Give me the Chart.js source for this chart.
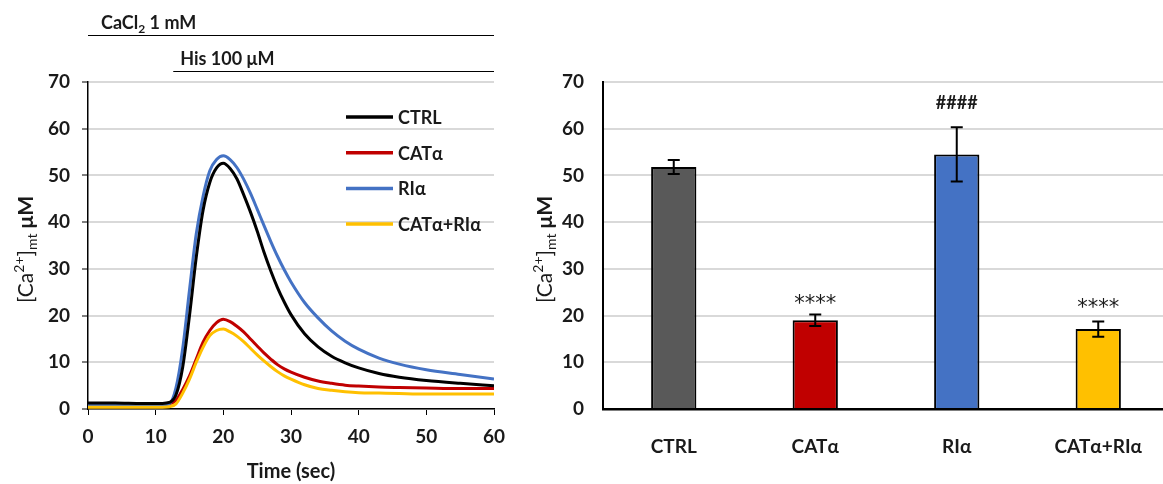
<!DOCTYPE html>
<html>
<head>
<meta charset="utf-8">
<script src="https://cdn.jsdelivr.net/npm/chart.js@4.4.1/dist/chart.umd.min.js"></script>
<style>
    body { margin: 0; background: #fff; overflow: hidden; width: 1163px; height: 484px; position: relative; }
    canvas { position: absolute; top: 0; }
    #traceChart { left: 0; }
    #peakChart { left: 520px; }
</style>
</head>
<body>
<canvas id="traceChart" width="520" height="484"></canvas>
<canvas id="peakChart" width="652" height="484"></canvas>
<script>
// Time course of mitochondrial Ca2+ (left) and peak values (right)

// Trace data (time in sec, [Ca2+]mt in uM)
const time = [0, 4, 8, 11, 12, 13, 14, 15, 16, 17, 18, 19, 20, 21, 22, 23, 24, 25, 26, 27, 28, 29, 30, 32, 34, 36, 38, 40, 43, 46, 50, 55, 60];
const ctrlTrace = [1.3, 1.3, 1.2, 1.2, 1.4, 3.0, 9, 20, 32.5, 42.5, 48.5, 51.6, 52.6, 51.5, 49.3, 45.9, 42.2, 38.1, 33.6, 29.6, 26.0, 22.9, 20.2, 16.1, 13.3, 11.3, 9.9, 8.8, 7.6, 6.8, 6.1, 5.5, 5.0];
const catTrace = [1.1, 1.1, 1.0, 1.0, 1.1, 1.8, 4.2, 7.1, 10.7, 14.3, 16.8, 18.5, 19.2, 18.7, 17.7, 16.5, 15.0, 13.5, 12.0, 10.7, 9.5, 8.6, 7.9, 6.8, 6.0, 5.5, 5.1, 4.9, 4.7, 4.6, 4.5, 4.4, 4.4];
const riTrace = [0.9, 0.9, 0.9, 0.9, 1.1, 4.5, 13, 25.5, 37.5, 45.5, 51, 53.4, 54.2, 53.4, 51.7, 49.2, 46.2, 42.8, 39.3, 35.9, 32.7, 29.8, 27.2, 22.8, 19.5, 16.7, 14.5, 12.8, 10.9, 9.6, 8.4, 7.4, 6.4];
const bothTrace = [0.4, 0.4, 0.4, 0.4, 0.5, 1.1, 3.4, 6.4, 10, 13.2, 15.7, 16.8, 17.1, 16.5, 15.6, 14.4, 13.0, 11.6, 10.3, 9.1, 8.0, 7.1, 6.4, 5.2, 4.4, 4.0, 3.7, 3.5, 3.4, 3.3, 3.2, 3.2, 3.2];

// Stimulus bars above the trace
const stimStart = [0, 12.6];
const stimEnd = [60, 60];

// Peak data
const groups = ['CTRL', 'CATα', 'RIα', 'CATα+RIα'];
const peakMean = [51.8, 19.0, 54.5, 17.1];
const peakErr = [1.5, 1.25, 5.8, 1.65];
const marks = ['', '****', '####', '****'];
const markAt = [null, 23.5, 65.7, 22.7];

// Axis ticks
const timeTicks = [0, 60, 10];
const concTicks = [0, 70, 10];

const colors = ['#000000', '#C00000', '#4472C4', '#FFC000'];
const barColors = ['#595959', '#C00000', '#4472C4', '#FFC000'];

const FONT = 'Lato';
const TXT = '#1a1a1a';
Chart.defaults.font.family = FONT;
Chart.defaults.color = TXT;

// Draw a run of text pieces (for sub/superscripts)
function drawRich(ctx, parts, x, y, align) {
    let total = 0;
    parts.forEach(p => { ctx.font = p.font; total += ctx.measureText(p.text).width; });
    let cx = align === 'center' ? x - total / 2 : x;
    ctx.textBaseline = 'alphabetic';
    ctx.textAlign = 'left';
    parts.forEach(p => {
        ctx.font = p.font;
        ctx.fillText(p.text, cx, y + (p.dy || 0));
        cx += ctx.measureText(p.text).width;
    });
}

function yTitleParts() {
    return [
        { text: '[Ca', font: '21px ' + FONT },
        { text: '2+', font: '14px ' + FONT, dy: -9 },
        { text: ']', font: '21px ' + FONT },
        { text: 'mt', font: '14px ' + FONT, dy: 4 },
        { text: ' μM', font: 'bold 21px ' + FONT }
    ];
}

function yTitlePlugin(cx) {
    return {
        id: 'yTitle',
        afterDraw(chart) {
            const ctx = chart.ctx;
            const a = chart.chartArea;
            ctx.save();
            ctx.fillStyle = TXT;
            ctx.translate(cx, (a.top + a.bottom) / 2 + 4);
            ctx.rotate(-Math.PI / 2);
            drawRich(ctx, yTitleParts(), 0, 8, 'center');
            ctx.restore();
        }
    };
}

// Stimulus annotations on top of the trace plot
const stimPlugin = {
    id: 'stim',
    afterDraw(chart) {
        const ctx = chart.ctx;
        const xs = chart.scales.x;
        const labels = [
            [{ text: 'CaCl', font: 'bold 18px ' + FONT }, { text: '2', font: 'bold 12px ' + FONT, dy: 4 }, { text: ' 1 mM', font: 'bold 18px ' + FONT }],
            [{ text: 'His 100 μM', font: 'bold 18px ' + FONT }]
        ];
        const lineY = [35.5, 71.5];
        const textDx = [13, 7];
        ctx.save();
        for (let i = 0; i < stimStart.length; i++) {
            const x0 = xs.getPixelForValue(stimStart[i]);
            const x1 = xs.getPixelForValue(stimEnd[i]);
            ctx.strokeStyle = '#000';
            ctx.lineWidth = 1;
            ctx.beginPath();
            ctx.moveTo(x0, lineY[i]);
            ctx.lineTo(x1, lineY[i]);
            ctx.stroke();
            ctx.fillStyle = TXT;
            drawRich(ctx, labels[i], x0 + textDx[i], lineY[i] - 7, 'left');
        }
        ctx.restore();
    }
};

// Legend inside the trace plot
const traceLegend = {
    id: 'traceLegend',
    afterDraw(chart) {
        const ctx = chart.ctx;
        const a = chart.chartArea;
        ctx.save();
        chart.data.datasets.forEach((ds, i) => {
            const y = a.top + 35 + i * 35.7;
            ctx.strokeStyle = ds.borderColor;
            ctx.lineWidth = 3.5;
            ctx.beginPath();
            ctx.moveTo(a.left + 258, y);
            ctx.lineTo(a.left + 305, y);
            ctx.stroke();
            ctx.fillStyle = TXT;
            ctx.font = 'bold 18px ' + FONT;
            ctx.textBaseline = 'middle';
            ctx.textAlign = 'left';
            ctx.fillText(ds.label, a.left + 310, y + 1);
        });
        ctx.restore();
    }
};

// Error bars and significance marks on the bar plot
const errorBars = {
    id: 'errorBars',
    afterDatasetsDraw(chart) {
        const ctx = chart.ctx;
        const ys = chart.scales.y;
        const meta = chart.getDatasetMeta(0);
        ctx.save();
        ctx.strokeStyle = '#000';
        ctx.lineWidth = 2;
        meta.data.forEach((bar, i) => {
            const top = ys.getPixelForValue(peakMean[i] + peakErr[i]);
            const bot = ys.getPixelForValue(peakMean[i] - peakErr[i]);
            ctx.beginPath();
            ctx.moveTo(bar.x, top);
            ctx.lineTo(bar.x, bot);
            ctx.moveTo(bar.x - 6, top);
            ctx.lineTo(bar.x + 6, top);
            ctx.moveTo(bar.x - 6, bot);
            ctx.lineTo(bar.x + 6, bot);
            ctx.stroke();
            if (marks[i]) {
                ctx.font = marks[i][0] === '#' ? 'bold 18px ' + FONT : '21px "DejaVu Sans"';
                ctx.fillStyle = TXT;
                ctx.textAlign = 'center';
                ctx.textBaseline = 'alphabetic';
                const m = ctx.measureText(marks[i]);
                const cy = ys.getPixelForValue(markAt[i]);
                ctx.fillText(marks[i], bar.x, cy + (m.actualBoundingBoxAscent - m.actualBoundingBoxDescent) / 2);
            }
        });
        ctx.restore();
    }
};

function series(values) {
    return time.map((t, i) => ({ x: t, y: values[i] }));
}

// Initialize trace chart
function initTraceChart() {
    const ctx = document.getElementById('traceChart').getContext('2d');
    const traces = [ctrlTrace, catTrace, riTrace, bothTrace];
    new Chart(ctx, {
        type: 'line',
        data: {
            datasets: traces.map((v, i) => ({
                label: groups[i],
                data: series(v),
                borderColor: colors[i],
                borderWidth: 3,
                pointRadius: 0,
                cubicInterpolationMode: 'monotone',
                order: i === 0 ? 0 : 4 - i
            }))
        },
        options: {
            responsive: false,
            animation: false,
            layout: { padding: { top: 82, right: 26, left: 0, bottom: 0 } },
            scales: {
                x: {
                    type: 'linear',
                    min: timeTicks[0],
                    max: timeTicks[1],
                    afterFit: s => { s.height = 75; },
                    ticks: { stepSize: timeTicks[2], padding: 10, font: { size: 19, weight: 'bold' }, color: TXT },
                    grid: { drawOnChartArea: false, tickLength: 6, tickColor: '#000', tickWidth: 1 },
                    border: { color: '#000', width: 1.5 },
                    title: { display: true, text: 'Time (sec)', font: { size: 20, weight: 'bold' }, color: TXT, padding: { top: 0, bottom: 0 } }
                },
                y: {
                    min: concTicks[0],
                    max: concTicks[1],
                    afterFit: s => { s.width = 88; },
                    ticks: { stepSize: concTicks[2], padding: 12, font: { size: 19, weight: 'bold' }, color: TXT },
                    grid: { color: '#d9d9d9', lineWidth: 2, tickLength: 6, tickColor: '#000', tickWidth: 1 },
                    border: { color: '#000', width: 1.5 }
                }
            },
            plugins: { legend: { display: false }, tooltip: { enabled: false } }
        },
        plugins: [stimPlugin, traceLegend, yTitlePlugin(25)]
    });
}

// Initialize peak chart
function initPeakChart() {
    const ctx = document.getElementById('peakChart').getContext('2d');
    new Chart(ctx, {
        type: 'bar',
        data: {
            labels: groups,
            datasets: [{
                data: peakMean,
                backgroundColor: barColors,
                borderColor: '#000',
                borderWidth: 2,
                borderSkipped: 'bottom',
                categoryPercentage: 1,
                barPercentage: 0.32
            }]
        },
        options: {
            responsive: false,
            animation: false,
            layout: { padding: { top: 82, right: 3, left: 0, bottom: 0 } },
            scales: {
                x: {
                    afterFit: s => { s.height = 75; },
                    ticks: { padding: 18, font: { size: 19, weight: 'bold' }, color: TXT },
                    grid: { display: false },
                    border: { color: '#000', width: 2.5 }
                },
                y: {
                    min: concTicks[0],
                    max: concTicks[1],
                    afterFit: s => { s.width = 83; },
                    ticks: { stepSize: concTicks[2], padding: 19, font: { size: 19, weight: 'bold' }, color: TXT },
                    grid: { color: '#d9d9d9', lineWidth: 2, drawTicks: false },
                    border: { color: '#000', width: 2 }
                }
            },
            plugins: { legend: { display: false }, tooltip: { enabled: false } }
        },
        plugins: [errorBars, yTitlePlugin(24)]
    });
}

initTraceChart();
initPeakChart();
</script>
</body>
</html>
